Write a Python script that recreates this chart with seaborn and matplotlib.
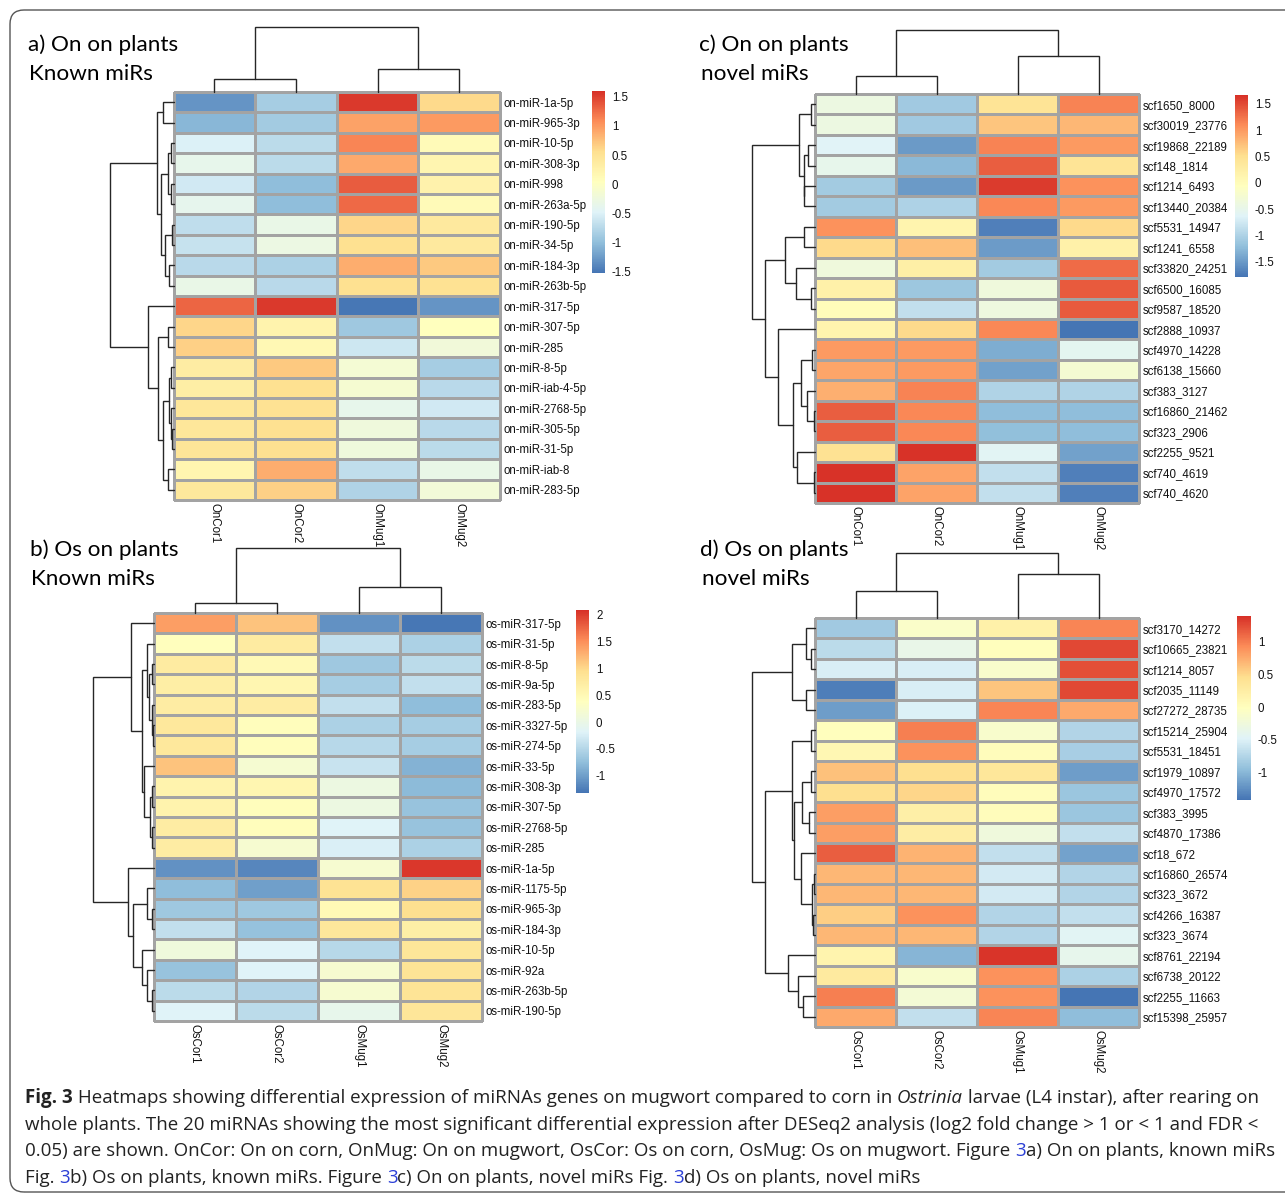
import numpy as np
import pandas as pd
import seaborn as sns
import matplotlib
matplotlib.use("Agg")
import matplotlib.pyplot as plt
from matplotlib.colors import LinearSegmentedColormap
from matplotlib.patches import FancyBboxPatch
from matplotlib.transforms import IdentityTransform

# ---------------------------------------------------------------- data
on_cols = ["OnCor1", "OnCor2", "OnMug1", "OnMug2"]
os_cols = ["OsCor1", "OsCor2", "OsMug1", "OsMug2"]

a_rows = ["on-miR-1a-5p", "on-miR-965-3p", "on-miR-10-5p", "on-miR-308-3p", "on-miR-998",
          "on-miR-263a-5p", "on-miR-190-5p", "on-miR-34-5p", "on-miR-184-3p", "on-miR-263b-5p",
          "on-miR-317-5p", "on-miR-307-5p", "on-miR-285", "on-miR-8-5p", "on-miR-iab-4-5p",
          "on-miR-2768-5p", "on-miR-305-5p", "on-miR-31-5p", "on-miR-iab-8", "on-miR-283-5p"]
a_vals = [[-1.30, -0.85, 1.55, 0.60],
          [-1.05, -0.88, 0.95, 1.00],
          [-0.50, -0.72, 1.12, 0.12],
          [-0.35, -0.72, 0.90, 0.20],
          [-0.58, -1.00, 1.35, 0.25],
          [-0.38, -1.00, 1.28, 0.12],
          [-0.70, -0.32, 0.62, 0.40],
          [-0.65, -0.28, 0.55, 0.40],
          [-0.73, -0.82, 0.88, 0.70],
          [-0.32, -0.74, 0.55, 0.52],
          [1.30, 1.55, -1.50, -1.30],
          [0.62, 0.24, -0.90, 0.04],
          [0.65, 0.15, -0.60, -0.20],
          [0.35, 0.70, -0.15, -0.85],
          [0.33, 0.55, -0.13, -0.73],
          [0.45, 0.52, -0.35, -0.58],
          [0.45, 0.55, -0.22, -0.73],
          [0.47, 0.55, -0.22, -0.72],
          [0.20, 0.88, -0.68, -0.32],
          [0.42, 0.66, -0.80, -0.18]]
a_row_tree = [[[0, 1, 0.175], [[[2, 3, 0.04], [4, 5, 0.05], 0.09],
                               [[6, 7, 0.03], [8, 9, 0.08], 0.14], 0.20], 0.27],
              [10, [[11, 12, 0.085], [[[13, 14, 0.04], [15, [16, 17, 0.02], 0.04], 0.07],
                                      [18, 19, 0.085], 0.17], 0.24], 0.41], 1.0]
a_col_tree = [[0, 1, 0.20], [2, 3, 0.36], 1.0]
a_ticks = [1.5, 1, 0.5, 0, -0.5, -1, -1.5]
a_range = (-1.52, 1.60)

c_rows = ["scf1650_8000", "scf30019_23776", "scf19868_22189", "scf148_1814", "scf1214_6493",
          "scf13440_20384", "scf5531_14947", "scf1241_6558", "scf33820_24251", "scf6500_16085",
          "scf9587_18520", "scf2888_10937", "scf4970_14228", "scf6138_15660", "scf383_3127",
          "scf16860_21462", "scf323_2906", "scf2255_9521", "scf740_4619", "scf740_4620"]
c_vals = [[-0.40, -1.10, 0.45, 1.15],
          [-0.40, -1.10, 0.70, 0.80],
          [-0.62, -1.50, 1.15, 1.00],
          [-0.50, -1.25, 1.38, 0.45],
          [-1.08, -1.50, 1.60, 1.05],
          [-1.08, -1.00, 1.12, 1.00],
          [1.05, 0.15, -1.70, 0.55],
          [0.55, 0.75, -1.48, 0.20],
          [-0.35, 0.25, -1.08, 1.30],
          [0.20, -1.12, -0.35, 1.40],
          [0.00, -0.85, -0.38, 1.40],
          [0.15, 0.55, 1.12, -1.78],
          [1.00, 1.00, -1.35, -0.55],
          [0.92, 1.00, -1.45, -0.25],
          [0.85, 1.15, -0.98, -0.98],
          [1.38, 1.12, -1.22, -1.22],
          [1.38, 1.12, -1.20, -1.22],
          [0.48, 1.65, -0.60, -1.45],
          [1.65, 0.93, -0.85, -1.70],
          [1.65, 0.93, -0.85, -1.70]]
c_row_tree = [[[0, 1, 0.07], [[2, 3, 0.11], [4, 5, 0.17], 0.18], 0.26],
              [[[6, 7, 0.17], [8, [9, 10, 0.07], 0.30], 0.48],
               [11, [[[12, 13, 0.05], [14, [15, 16, 0.02], 0.13], 0.22],
                     [17, [18, 19, 0.01], 0.29], 0.35], 0.59], 0.79], 1.0]
c_col_tree = [[0, 1, 0.28], [2, 3, 0.60], 1.0]
c_ticks = [1.5, 1, 0.5, 0, -0.5, -1, -1.5]
c_range = (-1.79, 1.67)

b_rows = ["os-miR-317-5p", "os-miR-31-5p", "os-miR-8-5p", "os-miR-9a-5p", "os-miR-283-5p",
          "os-miR-3327-5p", "os-miR-274-5p", "os-miR-33-5p", "os-miR-308-3p", "os-miR-307-5p",
          "os-miR-2768-5p", "os-miR-285", "os-miR-1a-5p", "os-miR-1175-5p", "os-miR-965-3p",
          "os-miR-184-3p", "os-miR-10-5p", "os-miR-92a", "os-miR-263b-5p", "os-miR-190-5p"]
b_vals = [[1.40, 1.15, -1.10, -1.30],
          [0.40, 0.75, -0.40, -0.55],
          [0.75, 0.50, -0.65, -0.45],
          [0.70, 0.55, -0.60, -0.40],
          [0.72, 0.72, -0.40, -0.75],
          [0.80, 0.42, -0.55, -0.60],
          [0.80, 0.42, -0.48, -0.60],
          [1.15, 0.20, -0.35, -0.85],
          [0.60, 0.55, 0.05, -0.78],
          [0.60, 0.42, 0.05, -0.70],
          [0.72, 0.42, -0.18, -0.70],
          [0.72, 0.22, -0.22, -0.55],
          [-1.10, -1.18, 0.22, 2.05],
          [-0.75, -1.00, 0.90, 1.05],
          [-0.65, -0.65, 0.50, 0.95],
          [-0.40, -0.72, 0.82, 0.68],
          [0.10, -0.18, -0.48, 0.85],
          [-0.70, -0.18, 0.22, 0.88],
          [-0.45, -0.52, 0.22, 0.88],
          [-0.18, -0.45, -0.05, 0.85]]
b_row_tree = [[0, [[1, [[2, 3, 0.03], [4, [5, 6, 0.02], 0.04], 0.08], 0.12],
                   [7, [[8, 9, 0.03], [10, 11, 0.03], 0.07], 0.16], 0.20], 0.37],
              [12, [[13, [14, 15, 0.04], 0.12],
                    [16, [17, [18, 19, 0.04], 0.12], 0.19], 0.35], 0.43], 1.0]
b_col_tree = [[0, 1, 0.15], [2, 3, 0.40], 1.0]
b_ticks = [2, 1.5, 1, 0.5, 0, -0.5, -1]
b_range = (-1.32, 2.09)

d_rows = ["scf3170_14272", "scf10665_23821", "scf1214_8057", "scf2035_11149", "scf27272_28735",
          "scf15214_25904", "scf5531_18451", "scf1979_10897", "scf4970_17572", "scf383_3995",
          "scf4870_17386", "scf18_672", "scf16860_26574", "scf323_3672", "scf4266_16387",
          "scf323_3674", "scf8761_22194", "scf6738_20122", "scf2255_11663", "scf15398_25957"]
d_vals = [[-0.85, -0.10, 0.20, 0.95],
          [-0.70, -0.35, 0.00, 1.25],
          [-0.52, -0.52, -0.12, 1.22],
          [-1.35, -0.52, 0.60, 1.25],
          [-1.15, -0.50, 0.95, 0.75],
          [0.00, 0.98, -0.12, -0.75],
          [0.10, 0.88, 0.02, -0.80],
          [0.62, 0.45, 0.35, -1.15],
          [0.45, 0.50, 0.02, -0.88],
          [0.82, 0.22, 0.02, -0.88],
          [0.82, 0.25, -0.25, -0.65],
          [1.15, 0.70, -0.65, -1.12],
          [0.68, 0.68, -0.55, -0.75],
          [0.68, 0.68, -0.55, -0.75],
          [0.55, 0.88, -0.75, -0.65],
          [0.68, 0.68, -0.75, -0.45],
          [0.15, -1.00, 1.35, -0.38],
          [0.30, -0.12, 0.88, -0.78],
          [0.98, -0.20, 0.88, -1.40],
          [0.75, -0.65, 0.95, -0.95]]
d_row_tree = [[[0, [1, 2, 0.07], 0.15], [3, 4, 0.15], 0.37],
              [[[5, 6, 0.07], [[[7, 8, 0.07], [9, 10, 0.10], 0.20],
                               [11, [[12, 13, 0.02], [14, 15, 0.03], 0.05], 0.22], 0.34], 0.37],
               [16, [17, [18, 19, 0.19], 0.27], 0.43], 0.79], 1.0]
d_col_tree = [[0, 1, 0.41], [2, 3, 0.67], 1.0]
d_ticks = [1, 0.5, 0, -0.5, -1]
d_range = (-1.41, 1.38)

# ---------------------------------------------------------------- style
sns.set_theme(style="white")
plt.rcParams["font.family"] = ["Liberation Sans", "DejaVu Sans"]
plt.rcParams["axes.unicode_minus"] = False

W, H = 1285, 1196
fig = plt.figure(figsize=(W / 100, H / 100), dpi=100)
fig.patch.set_facecolor("white")

cmap = LinearSegmentedColormap.from_list(
    "pheat", ["#4575B4", "#91BFDB", "#E0F3F8", "#FFFFBF", "#FEE090", "#FC8D59", "#D73027"])

LABEL_FS = 8.3
DENDRO_C = "#262626"


def add_ax(x0, y0, x1, y1):
    return fig.add_axes([x0 / W, 1 - y1 / H, (x1 - x0) / W, (y1 - y0) / H])


def tree_segments(node):
    if isinstance(node, int):
        return node + 0.5, 0.0, []
    left, right, h = node
    pl, hl, sl = tree_segments(left)
    pr, hr, sr = tree_segments(right)
    seg = [(pl, hl), (pl, h), (pr, h), (pr, hr)]
    return (pl + pr) / 2, h, sl + sr + [seg]


def panel(box, rows, cols, vals, row_tree, col_tree, ticks, rng, cbox):
    hx0, hy0, hx1, hy1, rx0, cy0 = box
    ax = add_ax(hx0, hy0, hx1, hy1)
    cax = add_ax(*cbox)
    df = pd.DataFrame(vals, index=rows, columns=cols)
    sns.heatmap(df, ax=ax, cmap=cmap, vmin=rng[0], vmax=rng[1],
                linewidths=0.8, linecolor="#a3a3a3", cbar_ax=cax,
                cbar_kws={"ticks": ticks}, xticklabels=True, yticklabels=True)
    ax.collections[0].set_clip_on(False)
    ax.yaxis.tick_right()
    ax.tick_params(axis="both", length=0, pad=2.5)
    ax.set_yticklabels(rows, rotation=0, ha="left", fontsize=LABEL_FS, color="#111111")
    ax.set_xticklabels(cols, rotation=270, ha="center", va="top", fontsize=LABEL_FS,
                       color="#111111")
    ax.set_xlabel("")
    ax.set_ylabel("")
    cb = ax.collections[0].colorbar
    cb.outline.set_visible(False)
    cax.set_yticks(ticks)
    cax.set_yticklabels([f"{t:g}" for t in ticks], fontsize=LABEL_FS, color="#111111")
    cax.tick_params(length=0, pad=5)

    # row dendrogram
    rax = add_ax(rx0, hy0, hx0, hy1)
    for seg in tree_segments(row_tree)[2]:
        rax.plot([p[1] for p in seg], [p[0] for p in seg], color=DENDRO_C, lw=1.0,
                 clip_on=False, solid_joinstyle="miter")
    rax.set_xlim(1.0, 0.0)
    rax.set_ylim(len(rows), 0)
    rax.axis("off")

    # column dendrogram
    dax = add_ax(hx0, cy0, hx1, hy0)
    for seg in tree_segments(col_tree)[2]:
        dax.plot([p[0] for p in seg], [p[1] for p in seg], color=DENDRO_C, lw=1.0,
                 clip_on=False, solid_joinstyle="miter")
    dax.set_xlim(0, len(cols))
    dax.set_ylim(0, 1.0)
    dax.axis("off")


panel((173.7, 92, 500, 500, 110, 27), a_rows, on_cols, a_vals, a_row_tree, a_col_tree,
      a_ticks, a_range, (592, 91, 605, 273))
panel((815, 94, 1139, 503, 752, 30), c_rows, on_cols, c_vals, c_row_tree, c_col_tree,
      c_ticks, c_range, (1235, 95, 1248, 277))
panel((154, 613, 482, 1021, 92.6, 548), b_rows, os_cols, b_vals, b_row_tree, b_col_tree,
      b_ticks, b_range, (576, 610, 589, 793))
panel((815, 618, 1139, 1027, 752, 553), d_rows, os_cols, d_vals, d_row_tree, d_col_tree,
      d_ticks, d_range, (1237, 616, 1251, 800))

# ---------------------------------------------------------------- titles
TITLE_FONT = ["Lato", "DejaVu Sans"]
titles = [(28, 45, "a) On on plants"), (29, 74, "Known miRs"),
          (699, 45, "c) On on plants"), (701, 74, "novel miRs"),
          (30, 550, "b) Os on plants"), (31, 579, "Known miRs"),
          (700, 550, "d) Os on plants"), (702, 579, "novel miRs")]
for x, y, t in titles:
    fig.text(x / W, 1 - y / H, t, fontsize=16.2, family=TITLE_FONT, ha="left",
             va="center", color="black")

# ---------------------------------------------------------------- caption
CAP_FONT = ["Open Sans", "DejaVu Sans"]
cap_lines = [
    [("Fig. 3", "bold"), (" Heatmaps showing differential expression of miRNAs genes on mugwort "
                          "compared to corn in ", "normal"), ("Ostrinia", "italic"),
     (" larvae (L4 instar), after rearing on", "normal")],
    [("whole plants. The 20 miRNAs showing the most significant differential expression after "
      "DESeq2 analysis (log2 fold change > 1 or < 1 and FDR <", "normal")],
    [("0.05) are shown. OnCor: On on corn, OnMug: On on mugwort, OsCor: Os on corn, OsMug: Os "
      "on mugwort. Figure ", "normal"), ("3", "link"), ("a) On on plants, known miRs", "normal")],
    [("Fig. ", "normal"), ("3", "link"), ("b) Os on plants, known miRs. Figure ", "normal"),
     ("3", "link"), ("c) On on plants, novel miRs Fig. ", "normal"), ("3", "link"),
     ("d) Os on plants, novel miRs", "normal")],
]
cap_y = [1098, 1125, 1151, 1178]
renderer = fig.canvas.get_renderer()


def style_kw(kind):
    kw = {"family": CAP_FONT, "color": "#222222"}
    if kind == "bold":
        kw["weight"] = "bold"
    elif kind == "italic":
        kw["style"] = "italic"
    elif kind == "link":
        kw["color"] = "#2b3fd6"
    return kw


def seg_width(s, kind, fs):
    t1 = fig.text(0, 0, "|" + s + "|", fontsize=fs, **style_kw(kind))
    t2 = fig.text(0, 0, "||", fontsize=fs, **style_kw(kind))
    w = t1.get_window_extent(renderer).width - t2.get_window_extent(renderer).width
    t1.remove()
    t2.remove()
    return w


base_fs = 12.0
w3 = sum(seg_width(s, k, base_fs) for s, k in cap_lines[2])
cap_fs = base_fs * (1245.0 / w3)

for line, y in zip(cap_lines, cap_y):
    x = 25.0
    for s, k in line:
        fig.text(x / W, 1 - y / H, s, fontsize=cap_fs, ha="left", va="center",
                 **style_kw(k))
        x += seg_width(s, k, cap_fs)

# ---------------------------------------------------------------- frame
frame = FancyBboxPatch((10, H - 1192), 1300, 1182, boxstyle="round,pad=0,rounding_size=14",
                       transform=IdentityTransform(), fill=False, edgecolor="#555555",
                       linewidth=1.0)
fig.add_artist(frame)

fig.savefig("out.png", dpi=100, facecolor="white")
